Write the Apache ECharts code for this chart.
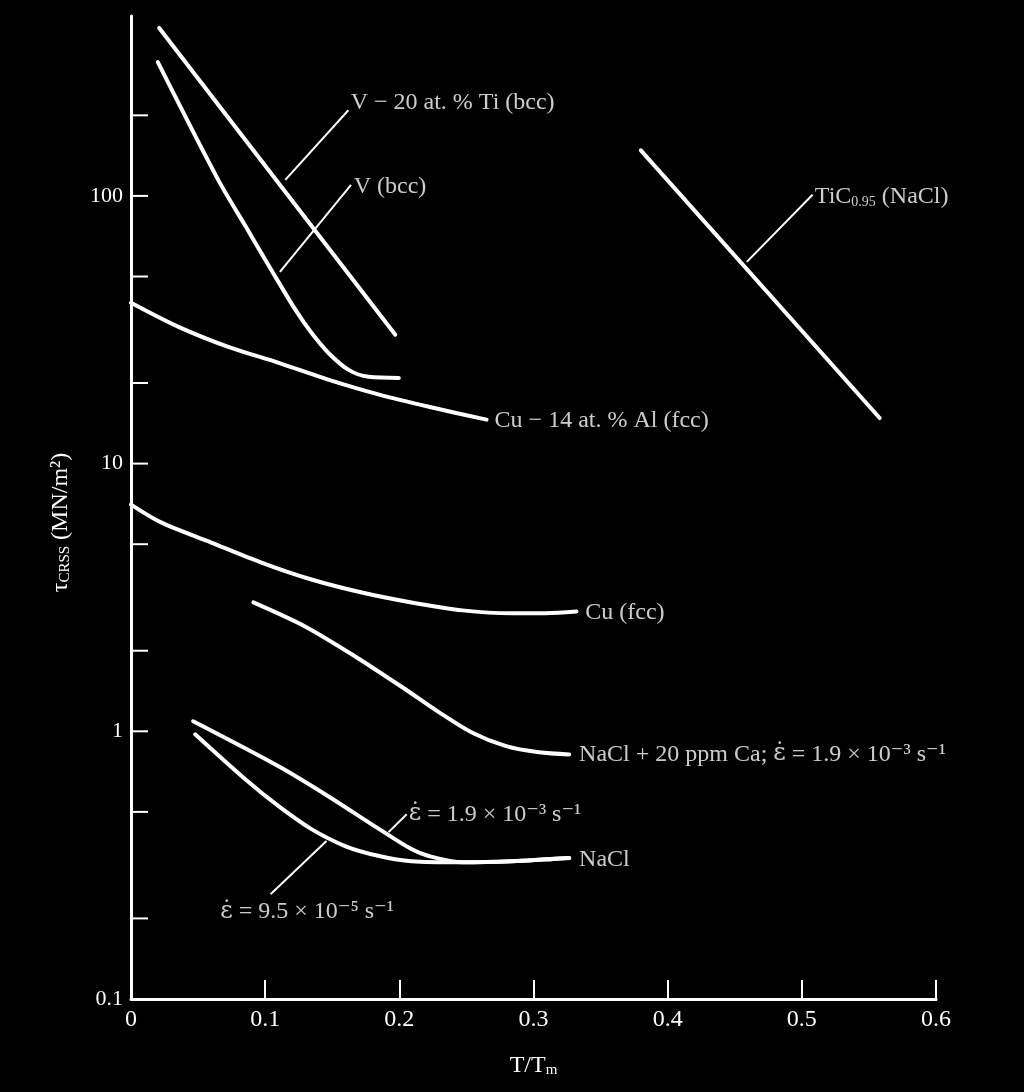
<!DOCTYPE html>
<html><head><meta charset="utf-8">
<script src="https://cdn.jsdelivr.net/npm/echarts@6/dist/echarts.min.js"></script>
<style>html,body{margin:0;background:#000}#c{width:1024px;height:1092px}</style>
</head><body><div id="c"></div>
<script>
// ---- data (x = T/Tm, y = tau_CRSS in MN/m^2) ----
const v20Ti = [[0.021, 424], [0.197, 30.3]];
const vBcc = [[0.020, 316], [0.065, 114.8], [0.0852, 77.3], [0.1046, 52.9], [0.1226, 37.5], [0.1345, 30.8], [0.1472, 25.9], [0.1622, 22.4], [0.1771, 21.1], [0.1996, 20.9]];
const cu14Al = [[0, 39.9], [0.035, 32.5], [0.0725, 27.3], [0.110, 23.8], [0.147, 20.6], [0.185, 18.1], [0.222, 16.3], [0.265, 14.6]];
const cuFcc = [[0, 7.03], [0.0224, 6.03], [0.0598, 5.07], [0.0972, 4.27], [0.1345, 3.69], [0.172, 3.30], [0.209, 3.03], [0.247, 2.83], [0.284, 2.76], [0.309, 2.76], [0.332, 2.80]];
const naclCa = [[0.0912, 3.03], [0.130, 2.46], [0.1674, 1.90], [0.205, 1.43], [0.2294, 1.18], [0.254, 0.99], [0.2796, 0.88], [0.304, 0.835], [0.3266, 0.82]];
const naclFast = [[0.0463, 1.09], [0.110, 0.74], [0.147, 0.572], [0.185, 0.431], [0.209, 0.363], [0.222, 0.342], [0.247, 0.324], [0.284, 0.327], [0.3266, 0.336]];
const naclSlow = [[0.0478, 0.975], [0.0852, 0.662], [0.110, 0.525], [0.1345, 0.431], [0.160, 0.372], [0.185, 0.342], [0.209, 0.327], [0.247, 0.324], [0.284, 0.327], [0.3266, 0.336]];
const tic = [[0.380, 148], [0.558, 14.8]];

// leader lines
const leadV20Ti = [[0.115, 114.8], [0.162, 209]];
const leadV = [[0.111, 52.0], [0.164, 110]];
const leadTiC = [[0.459, 56.7], [0.508, 101]];
const leadFast = [[0.192, 0.420], [0.2055, 0.490]];
const leadSlow = [[0.1457, 0.389], [0.104, 0.246]];

// annotation texts and anchors
const annotTexts = [
  'V − 20 at. % Ti (bcc)',
  'V (bcc)',
  'TiC{sub|0.95} (NaCl)',
  'Cu − 14 at. % Al (fcc)',
  'Cu (fcc)',
  'NaCl + 20 ppm Ca; {e|ε̇} = 1.9 × 10⁻³ s⁻¹',
  '{e|ε̇} = 1.9 × 10⁻³ s⁻¹',
  'NaCl',
  '{e|ε̇} = 9.5 × 10⁻⁵ s⁻¹'
];
const annotX = [0.1637, 0.166, 0.5097, 0.271, 0.3386, 0.334, 0.207, 0.334, 0.0665];
const annotY = [222, 108, 99, 14.5, 2.78, 0.821, 0.490, 0.330, 0.211];

const yTickValues = [0.2, 0.5, 1, 2, 5, 10, 20, 50, 100, 200];
const xMin = 0, xMax = 0.6, xStep = 0.1;
const yMin = 0.1, yMax = 470;

const FONT = '"Liberation Serif", "DejaVu Serif", serif';
const chart = echarts.init(document.getElementById('c'));

function curve(data, smooth) {
  return {
    type: 'line', data: data, symbol: 'none', smooth: smooth ? 0.3 : false,
    lineStyle: { color: '#fff', width: 4, cap: 'round', join: 'round' }, silent: true, z: 3
  };
}
function leader(data) {
  return {
    type: 'line', data: data, symbol: 'none',
    lineStyle: { color: '#fff', width: 2 }, silent: true, z: 3
  };
}

chart.setOption({
  backgroundColor: '#000',
  animation: false,
  grid: { left: 131, right: 88, top: 16, bottom: 93, containLabel: false },
  xAxis: {
    type: 'value', min: xMin, max: xMax, interval: xStep,
    name: 'T/T{sub|m}', nameLocation: 'middle', nameGap: 55,
    nameTextStyle: {
      color: '#fff', fontSize: 24, fontFamily: FONT,
      rich: { sub: { color: '#fff', fontSize: 15, fontFamily: FONT, verticalAlign: 'bottom', lineHeight: 15 } }
    },
    axisLine: { show: true, lineStyle: { color: '#fff', width: 3 } },
    axisTick: { show: true, inside: true, length: 19, lineStyle: { color: '#fff', width: 2 } },
    axisLabel: { color: '#fff', fontSize: 24, fontFamily: FONT, margin: 9 },
    splitLine: { show: false }
  },
  yAxis: {
    type: 'log', logBase: 10, min: yMin, max: yMax,
    name: '{t|τ}{sub|CRSS} (MN/m²)', nameLocation: 'middle', nameGap: 58, nameRotate: 90,
    nameTextStyle: {
      color: '#fff', fontSize: 24, fontFamily: FONT, padding: [0, 30, 0, 0],
      rich: {
        t: { color: '#fff', fontSize: 24, fontFamily: FONT },
        sub: { color: '#fff', fontSize: 15, fontFamily: FONT, verticalAlign: 'bottom', lineHeight: 15 }
      }
    },
    axisLine: { show: true, lineStyle: { color: '#fff', width: 3 } },
    axisTick: { show: false },
    axisLabel: { color: '#fff', fontSize: 22, fontFamily: FONT, margin: 8, showMaxLabel: false },
    splitLine: { show: false }
  },
  series: [
    {
      type: 'custom', data: yTickValues.map(v => [0, v]), silent: true, z: 2,
      renderItem: function (params, api) {
        const p = api.coord([api.value(0), api.value(1)]);
        return { type: 'line', shape: { x1: p[0], y1: p[1], x2: p[0] + 17, y2: p[1] },
                 style: { stroke: '#fff', lineWidth: 2 } };
      }
    },
    curve(v20Ti, false),
    curve(vBcc, true),
    curve(cu14Al, true),
    curve(cuFcc, true),
    curve(naclCa, true),
    curve(naclFast, true),
    curve(naclSlow, true),
    curve(tic, false),
    leader(leadV20Ti), leader(leadV), leader(leadTiC), leader(leadFast), leader(leadSlow),
    {
      type: 'scatter', symbolSize: 0, silent: true, z: 4,
      data: annotTexts.map((t, i) => ({ value: [annotX[i], annotY[i]], name: t })),
      label: {
        show: true, position: 'right', distance: 0,
        formatter: p => p.name,
        color: '#fff', fontSize: 24, fontFamily: FONT,
        rich: {
          sub: { color: '#fff', fontSize: 14, fontFamily: FONT, verticalAlign: 'bottom', lineHeight: 15 },
          e: { color: '#fff', fontSize: 24, fontFamily: '"DejaVu Serif", serif' }
        }
      }
    }
  ]
});
</script></body></html>
